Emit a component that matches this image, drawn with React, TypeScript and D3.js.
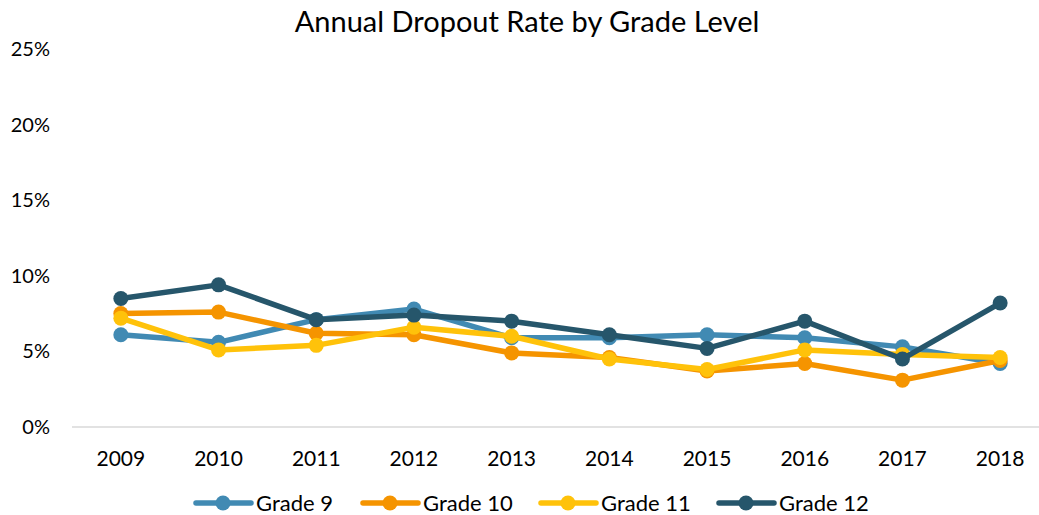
import { line, scaleBand, scaleLinear } from 'd3';

const years = ['2009', '2010', '2011', '2012', '2013', '2014', '2015', '2016', '2017', '2018'];
const grade9 = [6.1, 5.6, 7.1, 7.8, 5.9, 5.9, 6.1, 5.9, 5.3, 4.2];
const grade10 = [7.5, 7.6, 6.2, 6.1, 4.9, 4.6, 3.7, 4.2, 3.1, 4.4];
const grade11 = [7.2, 5.1, 5.4, 6.6, 6.0, 4.5, 3.8, 5.1, 4.8, 4.6];
const grade12 = [8.5, 9.4, 7.1, 7.4, 7.0, 6.1, 5.2, 7.0, 4.5, 8.2];
const yTicks = [0, 5, 10, 15, 20, 25];

const series = [
  { name: 'Grade 9', values: grade9, color: '#418AB3' },
  { name: 'Grade 10', values: grade10, color: '#F59400' },
  { name: 'Grade 11', values: grade11, color: '#FFC20A' },
  { name: 'Grade 12', values: grade12, color: '#26566B' },
];

const width = 1039;
const height = 515;
const margin = { top: 49, right: -10, bottom: 88, left: 72 };
const font = 'Lato, "Open Sans", sans-serif';

// legend swatch centers
const legendX = [223, 390, 568, 746];

export default function App() {
  const x = scaleBand<string>()
    .domain(years)
    .range([margin.left, width - margin.right]);
  const y = scaleLinear()
    .domain([0, 25])
    .range([height - margin.bottom, margin.top]);

  const cx = (year: string) => (x(year) ?? 0) + x.bandwidth() / 2;
  const path = line<number>()
    .x((_, i) => cx(years[i]))
    .y(v => y(v));

  return (
    <svg width={width} height={height} style={{ position: 'absolute', left: 0, top: 0, background: '#fff' }} fontFamily={font}>
      <text x={527} y={32} textAnchor="middle" fontSize={29} fill="#000">
        Annual Dropout Rate by Grade Level
      </text>

      {yTicks.map(t => (
        <text key={t} x={50} y={y(t) + 7} textAnchor="end" fontSize={20} fill="#000">
          {t}%
        </text>
      ))}

      <line x1={margin.left} x2={width} y1={y(0)} y2={y(0)} stroke="#D9D9D9" strokeWidth={1.5} />

      {years.map(yr => (
        <text key={yr} x={cx(yr)} y={y(0) + 39} textAnchor="middle" fontSize={21} fill="#000">
          {yr}
        </text>
      ))}

      {series.map(s => (
        <g key={s.name}>
          <path d={path(s.values) ?? ''} fill="none" stroke={s.color} strokeWidth={5.5} strokeLinejoin="round" />
          {s.values.map((v, i) => (
            <circle key={i} cx={cx(years[i])} cy={y(v)} r={7.5} fill={s.color} />
          ))}
        </g>
      ))}

      {series.map((s, i) => (
        <g key={s.name} transform={`translate(${legendX[i]},503)`}>
          <line x1={-27} x2={28} y1={0} y2={0} stroke={s.color} strokeWidth={5.5} strokeLinecap="round" />
          <circle cx={0} cy={0} r={7.5} fill={s.color} />
          <text x={33} y={7.5} fontSize={22} fill="#000">{s.name}</text>
        </g>
      ))}
    </svg>
  );
}
